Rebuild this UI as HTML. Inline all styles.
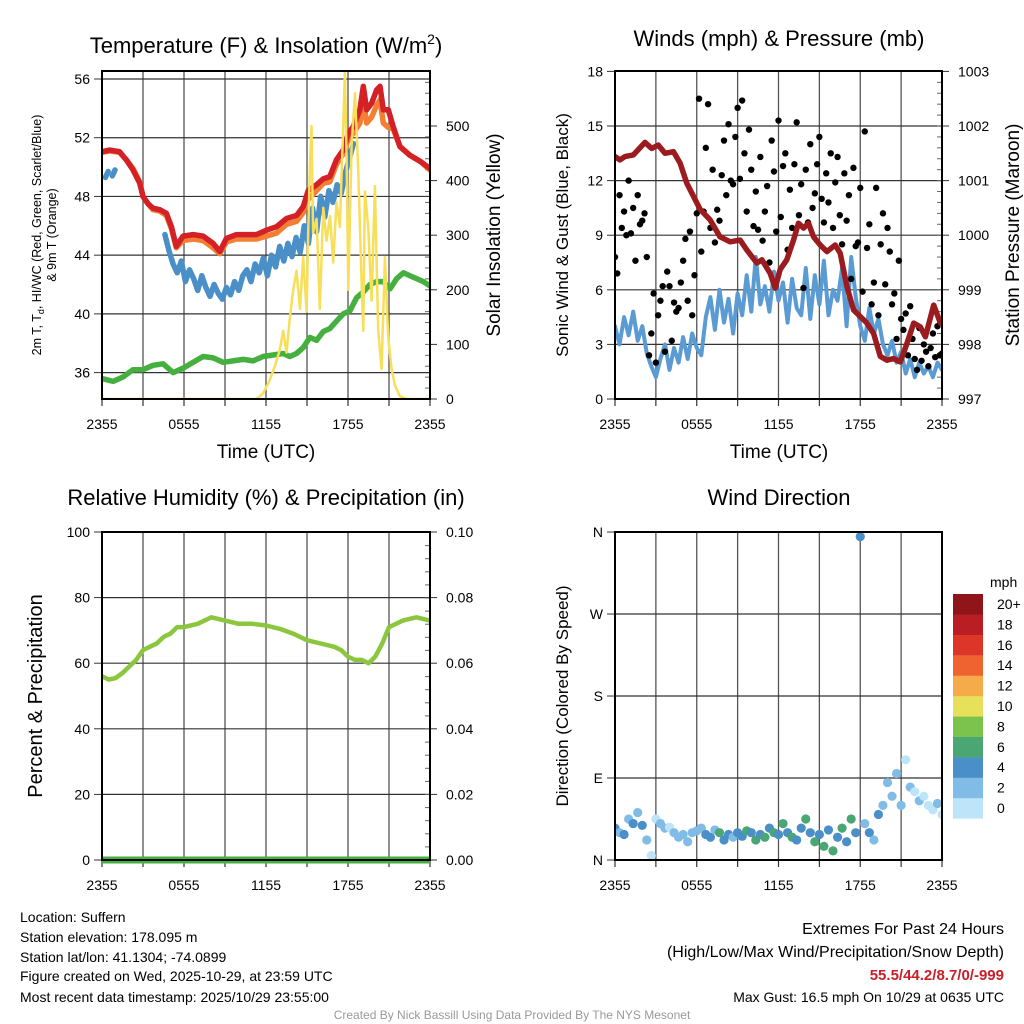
<!DOCTYPE html>
<html><head><meta charset="utf-8"><style>
html,body{margin:0;padding:0;background:#fff}
svg{display:block;font-family:"Liberation Sans",Arial,sans-serif}
</style></head><body>
<svg id="chart" width="1024" height="1024" viewBox="0 0 1024 1024" xmlns="http://www.w3.org/2000/svg">
<defs>
<clipPath id="c1"><rect x="102" y="71" width="328" height="328"/></clipPath>
<clipPath id="c2"><rect x="615" y="71" width="327" height="328"/></clipPath>
<clipPath id="c3"><rect x="102" y="532" width="328" height="328"/></clipPath>
<clipPath id="c4"><rect x="615" y="532" width="327" height="328"/></clipPath>
</defs>
<g id="layer"></g>
<text x="266" y="53" font-size="22" text-anchor="middle">Temperature (F) &amp; Insolation (W/m<tspan font-size="14" dy="-9">2</tspan><tspan dy="9">)</tspan></text>
<text x="779" y="46" font-size="22" text-anchor="middle">Winds (mph) &amp; Pressure (mb)</text>
<text x="266" y="505" font-size="22" text-anchor="middle">Relative Humidity (%) &amp; Precipitation (in)</text>
<text x="779" y="505" font-size="22" text-anchor="middle">Wind Direction</text>
<text transform="translate(41,235) rotate(-90)" font-size="12.5" text-anchor="middle">2m T, T<tspan font-size="9" dy="3">d</tspan><tspan dy="-3">, HI/WC (Red, Green, Scarlet/Blue)</tspan></text>
<text transform="translate(56,235) rotate(-90)" font-size="12.5" text-anchor="middle">&amp; 9m T (Orange)</text>
<text transform="translate(500,235) rotate(-90)" font-size="19" text-anchor="middle">Solar Insolation (Yellow)</text>
<text transform="translate(568,235) rotate(-90)" font-size="17" text-anchor="middle">Sonic Wind &amp; Gust (Blue, Black)</text>
<text transform="translate(1019,235) rotate(-90)" font-size="19" text-anchor="middle">Station Pressure (Maroon)</text>
<text transform="translate(42,696) rotate(-90)" font-size="20" text-anchor="middle">Percent &amp; Precipitation</text>
<text transform="translate(568,696) rotate(-90)" font-size="17" text-anchor="middle">Direction (Colored By Speed)</text>
<text x="266" y="458" font-size="19" text-anchor="middle">Time (UTC)</text>
<text x="779" y="458" font-size="19" text-anchor="middle">Time (UTC)</text>
<g font-size="14">
<text x="20" y="922">Location: Suffern</text>
<text x="20" y="942">Station elevation: 178.095 m</text>
<text x="20" y="962">Station lat/lon: 41.1304; -74.0899</text>
<text x="20" y="981">Figure created on Wed, 2025-10-29, at 23:59 UTC</text>
<text x="20" y="1002">Most recent data timestamp: 2025/10/29 23:55:00</text>
</g>
<g text-anchor="end">
<text x="1004" y="934" font-size="16">Extremes For Past 24 Hours</text>
<text x="1004" y="957" font-size="16">(High/Low/Max Wind/Precipitation/Snow Depth)</text>
<text x="1004" y="980" font-size="15" font-weight="bold" fill="#c8202a">55.5/44.2/8.7/0/-999</text>
<text x="1004" y="1002" font-size="14">Max Gust: 16.5 mph On 10/29 at 0635 UTC</text>
</g>
<text x="512" y="1019" font-size="12" fill="#999" text-anchor="middle">Created By Nick Bassill Using Data Provided By The NYS Mesonet</text>
</svg>
<script>
// ---- Panel 1 data ----
const redT = [0,.56,1.29,1.78,2.27,2.76,3.0,3.37,3.73,4.22,4.71,5.08,5.44,5.93,6.67,7.4,8.13,8.62,9.11,9.84,10.57,11.3,12.04,12.77,13.5,14.23,14.72,15.09,15.7,16.19,16.67,17.16,17.65,18.02,18.38,18.87,19.12,19.36,19.73,20.09,20.34,20.58,20.95,21.31,21.8,22.53,23.27,24];
const tempRed = [51.05,51.16,51.05,50.49,49.81,48.9,48.0,47.5,47.2,47.1,46.85,45.94,44.6,45.3,45.4,45.3,44.8,44.25,45.15,45.4,45.4,45.4,45.7,45.94,46.5,46.7,47.3,48.4,48.8,49.2,49.35,50.5,51.16,52.3,52.75,53.9,55.5,53.9,54.35,55.25,55.5,53.9,53.9,52.75,51.4,50.8,50.4,49.9];
const temp9m = [51.0,51.1,51.0,50.5,49.9,49.0,48.0,47.5,47.1,47.0,46.7,45.8,44.5,45.0,45.1,45.0,44.5,44.1,44.9,45.1,45.1,45.1,45.3,45.5,46.1,46.3,46.9,47.8,48.4,48.9,49.0,50.2,50.9,51.9,52.3,53.0,54.6,53.0,53.4,54.2,54.6,53.0,52.7,52.6,51.4,50.8,50.4,49.8];
const blueEarlyT = [0.25,0.45,null,0.75,0.95];
const blueEarly = [49.3,49.7,null,49.4,49.8];
const blueStart = 4.6, blueStep = 0.3;
const tempBlue = [45.4,44.3,43.4,42.8,43.6,42.2,43.0,42.4,41.6,42.6,41.8,41.2,42.0,41.4,41.0,41.8,41.3,42.2,41.6,42.6,43.0,42.2,43.4,42.8,43.8,42.6,44.0,43.2,44.6,43.6,44.8,43.9,45.2,44.2,46.0,44.8,47.2,45.6,48.0,46.6,48.4,47.6,48.8,48.2,49.6,50.6,51.6];
const greenT = [0,.81,1.54,2.27,3.0,3.74,4.47,5.2,5.93,6.67,7.4,8.13,8.86,9.59,10.33,11.06,11.79,12.52,13.26,13.74,14.23,14.72,15.21,15.7,16.19,16.67,17.16,17.65,18.14,18.63,19.12,19.61,20.09,20.58,21.07,21.56,22.05,22.53,23.02,23.51,24];
const dewGreen = [35.6,35.4,35.7,36.2,36.2,36.5,36.6,36.0,36.3,36.7,37.1,37.0,36.7,36.8,36.9,36.8,37.1,37.2,37.3,37.1,37.3,37.7,38.4,38.2,38.8,39.0,39.5,40.0,40.2,41.1,41.5,42.0,42.2,42.2,41.7,42.4,42.8,42.6,42.4,42.2,41.9];
const solarT = [0,11.3,11.79,12.28,12.65,13.01,13.26,13.5,13.75,13.99,14.23,14.48,14.72,14.97,15.09,15.21,15.33,15.45,15.7,15.94,16.19,16.43,16.68,16.92,17.16,17.41,17.65,17.77,17.9,18.02,18.26,18.51,18.75,18.99,19.12,19.24,19.48,19.73,19.97,20.21,20.46,20.7,20.95,21.19,21.44,21.8,22.29,24];
const solar = [0,0,10,35,60,90,125,85,150,200,235,165,260,160,305,427,500,305,330,165,350,290,335,250,360,315,500,600,440,200,465,560,415,220,125,380,315,180,390,125,55,260,110,55,25,5,0,0];
const tempTicks = [36,40,44,48,52,56];
const solarTicks = [0,100,200,300,400,500];
const timeLabels = ["2355","0555","1155","1755","2355"];
// ---- Panel 2 data ----
const presT = [0,.37,.73,1.35,2.2,2.69,3.18,3.67,4.29,4.78,5.27,5.76,6.25,6.98,7.71,8.45,9.18,9.67,10.41,10.78,11.39,11.76,12.12,12.61,13.1,13.47,13.84,14.2,14.57,15.06,15.55,16.16,16.53,17.02,17.51,18.0,18.49,18.98,19.47,19.96,20.45,20.94,21.43,21.92,22.41,22.78,23.39,23.88];
const pressure = [1001.44,1001.38,1001.44,1001.47,1001.7,1001.59,1001.65,1001.5,1001.53,1001.32,1000.95,1000.71,1000.47,1000.28,999.97,999.88,999.91,999.73,999.49,999.55,999.3,999.03,999.37,999.55,999.91,1000.22,1000.13,1000.22,999.97,999.82,999.7,999.82,999.67,999.06,998.63,998.51,998.39,998.2,997.78,997.71,997.74,997.68,998.02,998.39,998.32,998.14,998.72,998.39];
const windSpeed = [4,3,4.5,3.5,4.8,3.2,4,2.5,1.8,1.2,2.2,3,1.6,2.8,2,3.4,2.2,3.6,2.8,2.4,4.5,5.6,3.8,6,4.2,5.5,3.6,5.8,4.6,6.8,4.8,7.8,5.2,6.2,4.8,7,5.4,6.4,4.2,6.6,5,4.6,7.2,4.4,6.8,5.2,7.6,4.6,6,5.4,7.2,4,7.8,5.6,4,3.2,5,3.6,4.4,3,2.4,3.2,2,2.6,1.4,2.2,1.2,2,1.4,1.8,1.2,2,1.6];
const gust = [7.8,6.9,11.2,9.4,10.3,9.0,12.0,9.1,10.5,7.6,11.2,9.6,
9.8,10.2,7.8,2.4,3.6,5.8,2.0,4.6,5.4,6.2,2.6,7.0,
6.2,3.2,5.3,4.8,5.0,6.4,7.6,8.8,5.4,9.2,4.6,6.8,
10.2,16.5,8.1,10.3,13.8,16.2,9.4,12.6,8.6,10.4,9.8,12.3,
14.2,11.2,15.1,12.0,11.8,14.4,16.0,12.1,16.4,13.5,10.3,14.8,
12.6,9.5,11.4,9.3,13.3,8.7,10.3,11.7,7.5,14.2,12.5,9.2,
15.3,10.0,12.8,13.5,8.2,11.5,9.4,12.9,15.2,10.1,11.8,6.1,
12.6,9.7,14.0,10.5,11.3,12.9,14.4,11.0,9.7,12.4,10.8,13.5,
9.4,11.9,13.3,10.1,8.5,12.4,9.8,11.2,6.6,12.7,8.4,8.6,
11.6,5.9,14.7,8.3,9.6,5.2,6.4,11.6,4.6,8.5,10.2,6.3,
9.4,8.1,5.2,5.8,3.3,7.6,4.4,3.8,4.7,2.4,5.1,3.3,
2.2,1.6,3.9,2.1,3.0,2.6,1.8,2.8,3.6,2.3,4.0,2.4,2.5];
const windTicks = [0,3,6,9,12,15,18];
const presTicks = [997,998,999,1000,1001,1002,1003];
// ---- Panel 3 data ----
const rhT = [0,0.5,1,1.5,2,2.5,3,3.5,4,4.5,5,5.5,6,7,8,9,10,11,12,13,14,15,16,17,17.5,18,18.5,19,19.5,20,20.5,21,22,23,24];
const rh = [56,55,55.5,57,59,61,64,65,66,68,69,71,71,72,74,73,72,72,71.5,70.5,69,67,66,65,64,62,61,61,60,62,66,71,73,74,73];
const precip = [0,0];
const rhTicks = [0,20,40,60,80,100];
const precipTicks = ["0.00","0.02","0.04","0.06","0.08","0.10"];
// ---- Panel 4 data ----
const windDir = [35,30,28,45,40,52,38,22,5,45,40,35,36,30,25,28,20,30,32,35,28,25,33,30,22,28,25,30,26,32,30,22,28,25,35,30,28,40,30,25,22,35,45,30,20,28,15,33,10,25,35,20,45,30,355,40,30,22,50,60,85,70,95,60,110,80,75,65,70,60,55,62,50];
const dirLabels = ["N","E","S","W","N"];
const speedBins = ["0","2","4","6","8","10","12","14","16","18","20+"];
const binColors = ["#bde4f8","#80bce6","#4a8fc7","#4aa672","#7cc34e","#e6e05a","#f5ab4a","#ee6330","#dd3528","#bb1d25","#8f1518"];

const NS="http://www.w3.org/2000/svg";
const layer=document.getElementById('layer');
function mk(tag,attrs,parent){const e=document.createElementNS(NS,tag);for(const k in attrs)e.setAttribute(k,attrs[k]);(parent||layer).appendChild(e);return e;}
const P1={L:102,R:430,T:71,B:399}, P2={L:615,R:942,T:71,B:399}, P3={L:102,R:430,T:532,B:860}, P4={L:615,R:942,T:532,B:860};
const xs=(p,t)=>p.L+t/24*(p.R-p.L);
const yTemp=v=>79+(56-v)*14.68, ySolar=v=>399-v*0.546;
const yWind=v=>399-v*18.2, yPres=v=>399-(v-997)*54.6;
const yRH=v=>860-v*3.28, yDir=v=>860-v*0.911;

function frame(p,name){
  const g=mk('g',{});
  
  
  for(let h=3;h<24;h+=3){const x=xs(p,h);mk('line',{x1:x,x2:x,y1:p.T,y2:p.B,stroke:'#555','stroke-width':1.3},g);}
  for(let h=0;h<=24;h+=3){const x=xs(p,h);mk('line',{x1:x,x2:x,y1:p.B,y2:p.B+7,stroke:'#333','stroke-width':1.2},g);}
  const labels=mk('g',{'font-size':14,'text-anchor':'middle'},g);
  timeLabels.forEach((s,i)=>{const t=mk('text',{x:xs(p,i*6),y:p.B+30},labels);t.textContent=s;});
  return g;
}
function box(p,name){const r=mk('rect',{x:p.L,y:p.T,width:p.R-p.L,height:p.B-p.T,fill:'none',stroke:'#000','stroke-width':2});

}
function hgrid(p,ys,labels,side,g){
  ys.forEach((y,i)=>{
    mk('line',{x1:p.L,x2:p.R,y1:y,y2:y,stroke:'#333','stroke-width':1.2},g);
    if(side==='L'){mk('line',{x1:p.L-8,x2:p.L,y1:y,y2:y,stroke:'#333'},g);
      const t=mk('text',{x:p.L-12,y:y+5,'font-size':14,'text-anchor':'end'},g);t.textContent=labels[i];}
  });
}
function rightLabels(p,ys,labels,g){ys.forEach((y,i)=>{mk('line',{x1:p.R,x2:p.R+7,y1:y,y2:y,stroke:'#333'},g);
  const t=mk('text',{x:p.R+16,y:y+5,'font-size':14},g);t.textContent=labels[i];});}
function minor(p,y0,y1,step,g){for(let y=y0;y>=y1;y-=step)mk('line',{x1:p.R-5,x2:p.R,y1:y,y2:y,stroke:'#666','stroke-width':1},g);}
function path(ts,vs,p,yf,attrs,name){
  let d='',pen=false;
  ts.forEach((t,i)=>{if(t===null||vs[i]===null){pen=false;return;}d+=(pen?'L':'M')+xs(p,t).toFixed(1)+','+yf(vs[i]).toFixed(1);pen=true;});
  const e=mk('path',Object.assign({d:d,fill:'none','stroke-linejoin':'round','stroke-linecap':'round'},attrs));
  
  
  return e;
}

// Panel 1
let g1=frame(P1,'temperature');
hgrid(P1,tempTicks.map(yTemp),tempTicks,'L',g1);
rightLabels(P1,solarTicks.map(ySolar),solarTicks,g1);
minor(P1,399,72,10.92,g1);
const cl1={'clip-path':'url(#c1)'};
path(redT,temp9m,P1,yTemp,Object.assign({stroke:'#f47f32','stroke-width':5.5},cl1),'temp-9m-line');
path(redT,tempRed,P1,yTemp,Object.assign({stroke:'#d42027','stroke-width':5.5},cl1),'temp-2m-line');
path(blueEarlyT,blueEarly,P1,yTemp,Object.assign({stroke:'#4b8fc9','stroke-width':5.5},cl1),'hiwc-early-line');
path(tempBlue.map((v,i)=>blueStart+i*blueStep),tempBlue,P1,yTemp,Object.assign({stroke:'#4b8fc9','stroke-width':5.5},cl1),'hiwc-line');
path(greenT,dewGreen,P1,yTemp,Object.assign({stroke:'#45b03f','stroke-width':5.5},cl1),'dewpoint-line');
path(solarT,solar,P1,ySolar,Object.assign({stroke:'#f8df5a','stroke-width':2.5},cl1),'solar-line');
box(P1,'temperature');

// Panel 2
let g2=frame(P2,'wind');
hgrid(P2,windTicks.map(yWind),windTicks,'L',g2);
rightLabels(P2,presTicks.map(yPres),presTicks,g2);
minor(P2,399,72,10.92,g2);
const cl2={'clip-path':'url(#c2)'};
path(windSpeed.map((v,i)=>i*24/(windSpeed.length-1)),windSpeed,P2,yWind,Object.assign({stroke:'#5a9bd4','stroke-width':4},cl2),'sonic-wind-line');
const gg=mk('g',cl2);


gust.forEach((v,i)=>{const c=mk('circle',{cx:xs(P2,i*24/(gust.length-1)),cy:yWind(v),r:3.2,fill:'#000'},gg);

});
path(presT,pressure,P2,yPres,Object.assign({stroke:'#9b1b1f','stroke-width':5.5},cl2),'pressure-line');
box(P2,'wind');

// Panel 3
let g3=frame(P3,'humidity');
hgrid(P3,rhTicks.map(yRH),rhTicks,'L',g3);
rightLabels(P3,rhTicks.map(yRH),precipTicks,g3);
minor(P3,860,533,13.1,g3);
path(rhT,rh,P3,yRH,{stroke:'#8cc63f','stroke-width':4.5,'clip-path':'url(#c3)'},'rh-line');
path([0,24],precip,P3,v=>yRH(v*1000),{stroke:'#45b03f','stroke-width':7,'stroke-linecap':'butt'},'precip-line');
box(P3,'humidity');

// Panel 4
let g4=frame(P4,'direction');
hgrid(P4,[0,90,180,270,360].map(yDir),dirLabels,'L',g4);
const gd=mk('g',{'clip-path':'url(#c4)'});


windDir.forEach((d,i)=>{const s=windSpeed[i];const b=Math.min(10,Math.floor(s/2));
  const c=mk('circle',{cx:xs(P4,i*24/(windDir.length-1)),cy:yDir(d),r:4.6,fill:binColors[b]},gd);
  
  });
box(P4,'direction');
// colorbar
const cb=mk('g',{});


const mt=mk('text',{x:990,y:587,'font-size':14},cb);mt.textContent='mph';
speedBins.forEach((s,i)=>{const y=798-i*20.4;
  mk('rect',{x:953,y:y,width:30,height:20.6,fill:binColors[i]},cb);
  const t=mk('text',{x:997,y:y+15,'font-size':14},cb);t.textContent=s;});
</script>
</body></html>
